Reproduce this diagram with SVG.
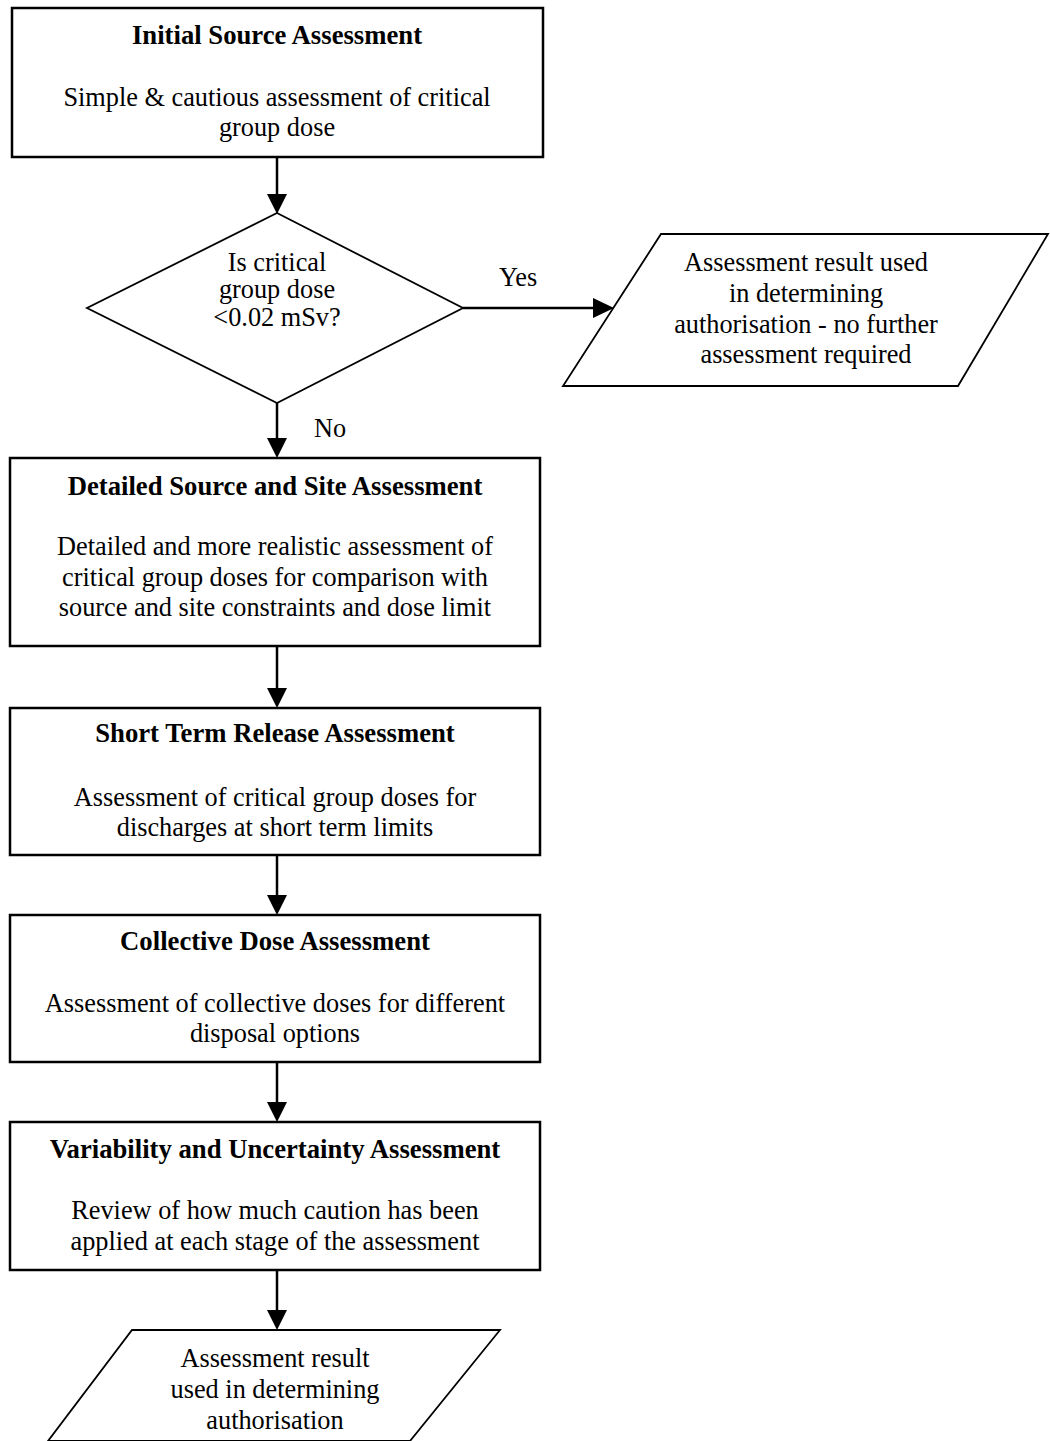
<svg xmlns="http://www.w3.org/2000/svg" width="1050" height="1441" viewBox="0 0 1050 1441">
<style>
.box{fill:#fff;stroke:#000;stroke-width:2.5}
.shape{fill:#fff;stroke:#000;stroke-width:1.8}
.t{font-family:"Liberation Serif","Times New Roman",serif;font-size:26.3px;fill:#000;text-anchor:middle}
.b{font-family:"Liberation Serif","Times New Roman",serif;font-size:26.7px;font-weight:bold;fill:#000;text-anchor:middle}
.l{font-family:"Liberation Serif","Times New Roman",serif;font-size:26.3px;fill:#000}
.ln{stroke:#000;stroke-width:2.5;fill:none}
.ah{fill:#000}
</style>
<rect width="1050" height="1441" fill="#fff"/>
<g id="connectors">
<path class="ln" d="M277,157 L277,196"/>
<polygon class="ah" points="267,194 287,194 277,214"/>
<path class="ln" d="M463,308 L594,308"/>
<polygon class="ah" points="593,298 593,318 614,308"/>
<path class="ln" d="M277,403 L277,440"/>
<polygon class="ah" points="267,438 287,438 277,458"/>
<path class="ln" d="M277,646 L277,690"/>
<polygon class="ah" points="267,688 287,688 277,708"/>
<path class="ln" d="M277,855 L277,897"/>
<polygon class="ah" points="267,895 287,895 277,915"/>
<path class="ln" d="M277,1062 L277,1104"/>
<polygon class="ah" points="267,1102 287,1102 277,1122"/>
<path class="ln" d="M277,1270 L277,1312"/>
<polygon class="ah" points="267,1310 287,1310 277,1330"/>
<text class="l" x="499" y="286">Yes</text>
<text class="l" x="314" y="437">No</text>
</g>
<g id="initial">
<rect class="box" x="12" y="8" width="531" height="149"/>
<text class="b" x="277" y="44">Initial Source Assessment</text>
<text class="t" x="277" y="106">Simple &amp; cautious assessment of critical</text>
<text class="t" x="277" y="136">group dose</text>
</g>
<g id="decision">
<polygon class="shape" points="277,213 463,308 277,403 87,308"/>
<text class="t" x="277" y="271">Is critical</text>
<text class="t" x="277" y="298">group dose</text>
<text class="t" x="277" y="326">&lt;0.02 mSv?</text>
</g>
<g id="result1">
<polygon class="shape" points="661,234 1048,234 958,386 563,386"/>
<text class="t" x="806" y="271">Assessment result used</text>
<text class="t" x="806" y="302">in determining</text>
<text class="t" x="806" y="333">authorisation - no further</text>
<text class="t" x="806" y="363">assessment required</text>
</g>
<g id="detailed">
<rect class="box" x="10" y="458" width="530" height="188"/>
<text class="b" x="275" y="495">Detailed Source and Site Assessment</text>
<text class="t" x="275" y="555">Detailed and more realistic assessment of</text>
<text class="t" x="275" y="586">critical group doses for comparison with</text>
<text class="t" x="275" y="616">source and site constraints and dose limit</text>
</g>
<g id="shortterm">
<rect class="box" x="10" y="708" width="530" height="147"/>
<text class="b" x="275" y="742">Short Term Release Assessment</text>
<text class="t" x="275" y="806">Assessment of critical group doses for</text>
<text class="t" x="275" y="836">discharges at short term limits</text>
</g>
<g id="collective">
<rect class="box" x="10" y="915" width="530" height="147"/>
<text class="b" x="275" y="950">Collective Dose Assessment</text>
<text class="t" x="275" y="1012">Assessment of collective doses for different</text>
<text class="t" x="275" y="1042">disposal options</text>
</g>
<g id="variability">
<rect class="box" x="10" y="1122" width="530" height="148"/>
<text class="b" x="275" y="1158">Variability and Uncertainty Assessment</text>
<text class="t" x="275" y="1219">Review of how much caution has been</text>
<text class="t" x="275" y="1250">applied at each stage of the assessment</text>
</g>
<g id="result2">
<polygon class="shape" points="132,1330 500,1330 410,1441 48,1441"/>
<text class="t" x="275" y="1367">Assessment result</text>
<text class="t" x="275" y="1398">used in determining</text>
<text class="t" x="275" y="1429">authorisation</text>
</g>
</svg>
